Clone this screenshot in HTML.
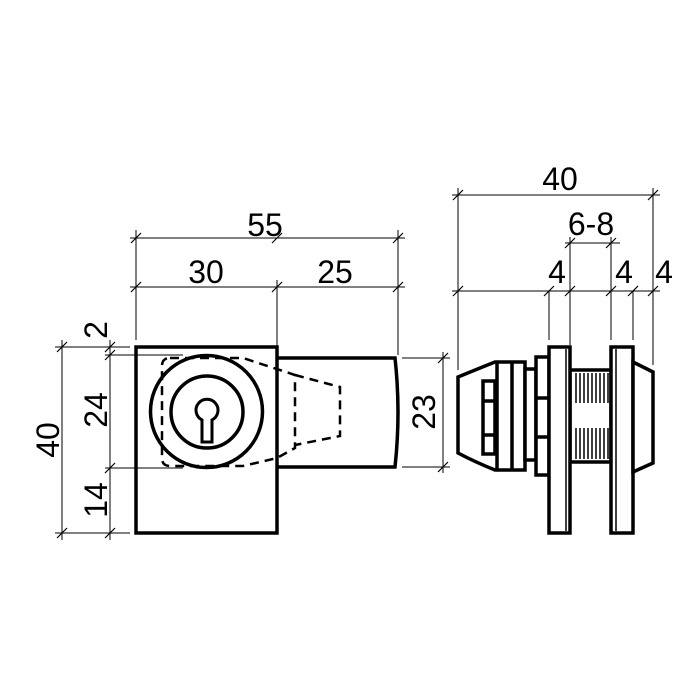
<!DOCTYPE html>
<html><head><style>html,body{margin:0;padding:0;background:#fff}svg{display:block}</style></head>
<body>
<svg width="700" height="700" viewBox="0 0 700 700" xmlns="http://www.w3.org/2000/svg">
<rect width="700" height="700" fill="#fff"/>
<g font-family="Liberation Sans, sans-serif" font-size="32" fill="#000" text-anchor="middle">
<text x="265" y="236">55</text>
<text x="206" y="283">30</text>
<text x="335" y="283">25</text>
<text x="560" y="190">40</text>
<text x="591" y="235">6-8</text>
<text x="557" y="283">4</text>
<text x="624" y="283">4</text>
<text x="664" y="283">4</text>
<text transform="translate(59,440) rotate(-90)">40</text>
<text transform="translate(107,330) rotate(-90)">2</text>
<text transform="translate(107,410) rotate(-90)">24</text>
<text transform="translate(107,500) rotate(-90)">14</text>
<text transform="translate(435,412) rotate(-90)">23</text>
</g>
<g stroke="#000" stroke-width="1" fill="none">
<line x1="130" y1="238" x2="405" y2="238"/>
<line x1="130" y1="287" x2="405" y2="287"/>
<line x1="136" y1="230" x2="136" y2="340"/>
<line x1="277" y1="280" x2="277" y2="347"/>
<line x1="398" y1="230" x2="398" y2="355"/>
<line x1="62" y1="340" x2="62" y2="540"/>
<line x1="110" y1="340" x2="110" y2="540"/>
<line x1="55" y1="347" x2="130" y2="347"/>
<line x1="105" y1="355" x2="183" y2="355"/>
<line x1="105" y1="468" x2="183" y2="468"/>
<line x1="55" y1="533" x2="130" y2="533"/>
<line x1="443" y1="352" x2="443" y2="473"/>
<line x1="402" y1="358" x2="450" y2="358"/>
<line x1="402" y1="467" x2="450" y2="467"/>
<line x1="452" y1="195" x2="660" y2="195"/>
<line x1="565" y1="243" x2="620" y2="243"/>
<line x1="452" y1="291" x2="660" y2="291"/>
<line x1="458" y1="188" x2="458" y2="370"/>
<line x1="653" y1="188" x2="653" y2="365"/>
<line x1="549" y1="291" x2="549" y2="340"/>
<line x1="570" y1="237" x2="570" y2="345"/>
<line x1="611" y1="237" x2="611" y2="340"/>
<line x1="633" y1="291" x2="633" y2="340"/>
<g stroke-width="1.2">
<path d="M131 243l10-10M272 243l10-10M393 243l10-10"/>
<path d="M131 292l10-10M272 292l10-10M393 292l10-10"/>
<path d="M57 352l10-10M57 538l10-10M105 352l10-10M105 360l10-10M105 473l10-10M105 538l10-10"/>
<path d="M438 363l10-10M438 472l10-10"/>
<path d="M453 200l10-10M648 200l10-10"/>
<path d="M565 248l10-10M606 248l10-10"/>
<path d="M453 296l10-10M544 296l10-10M565 296l10-10M606 296l10-10M628 296l10-10M648 296l10-10"/>
</g>
</g>
<g stroke="#000" stroke-width="3.5" fill="none">
<rect x="136" y="347" width="141" height="186"/>
<path d="M277 358H395Q401 412 395 467H277"/>
<circle cx="206.5" cy="411.5" r="56"/>
<circle cx="207" cy="412" r="36"/>
<path d="M202 420A11 11 0 1 1 212 420V442H202Z" stroke-width="3"/>
</g>
<g stroke="#000" stroke-width="2.5" fill="none" stroke-dasharray="9 6">
<path d="M170 358H243L295 375V448L277 458L243 466H170Q162 466 162 458V366Q162 358 170 358"/>
<path d="M295 375L340 387V436L295 445"/>
</g>
<g stroke="#000" stroke-width="3.5" fill="#fff">
<path d="M458 377Q475 370 495 362H525V470H495Q475 462 458 453Z"/>
<line x1="497" y1="362" x2="497" y2="470"/>
<line x1="512" y1="362" x2="512" y2="470"/>
<rect x="483" y="381" width="12" height="73"/>
<line x1="483" y1="401" x2="495" y2="401"/>
<line x1="483" y1="435" x2="495" y2="435"/>
<rect x="525" y="369" width="11" height="91"/>
<rect x="536" y="357" width="13" height="118"/>
<line x1="536" y1="398" x2="549" y2="398"/>
<line x1="536" y1="437" x2="549" y2="437"/>
<rect x="570" y="370" width="41" height="92"/>
<rect x="549" y="347" width="21" height="186"/>
<rect x="611" y="347" width="22" height="186"/>
<path d="M633 362L653 372V463L633 472Z"/>
</g>
<g stroke="#000" stroke-width="1.5">
<line x1="566" y1="349" x2="566" y2="531"/>
<line x1="616" y1="349" x2="616" y2="531"/>
<path d="M576 373v30M580 373v30M584 373v30M588 373v30M592 373v30M596 373v30M600 373v30M604 373v30M608 373v30"/>
<path d="M576 428v31M580 428v31M584 428v31M588 428v31M592 428v31M596 428v31M600 428v31M604 428v31M608 428v31"/>
</g>
</svg>
</body></html>
